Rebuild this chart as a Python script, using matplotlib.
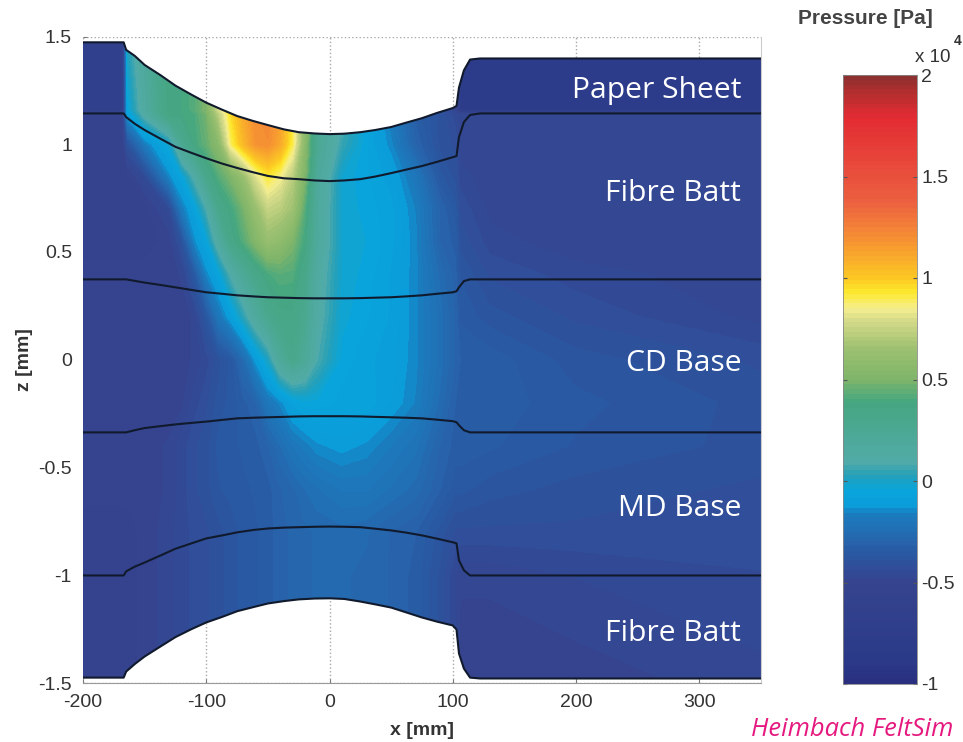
import numpy as np
import matplotlib
matplotlib.use("Agg")
import matplotlib.pyplot as plt
from matplotlib.cm import ScalarMappable
from matplotlib.colors import LinearSegmentedColormap, Normalize
from matplotlib.patches import PathPatch
from matplotlib.path import Path

plt.rcParams['font.family'] = ['Liberation Sans', 'DejaVu Sans']

# layer boundaries
bound_x = [-200, -167, -165, -158, -150, -137, -125, -112, -100, -87, -75, -62, -50, -37, -25, -12, 0, 12, 25, 37,
           50, 62, 75, 87, 100, 103, 105, 109, 114, 122, 350]
paper_top = [1.473, 1.473, 1.438, 1.41, 1.368, 1.32, 1.272, 1.23, 1.193, 1.16, 1.131, 1.108, 1.089, 1.069, 1.056, 1.05,
             1.047, 1.049, 1.056, 1.066, 1.08, 1.1, 1.121, 1.145, 1.168, 1.178, 1.263, 1.343, 1.393, 1.398, 1.398]
paper_batt = [1.143, 1.143, 1.126, 1.095, 1.066, 1.025, .988, .96, .935, .91, .89, .87, .853, .842, .838, .832,
              .829, .832, .838, .85, .866, .882, .899, .918, .94, .945, 1.033, 1.103, 1.136, 1.143, 1.143]
batt_cd = [.373, .373, .373, .366, .358, .347, .336, .324, .313, .306, .299, .294, .29, .288, .286, .285,
           .285, .285, .286, .288, .29, .294, .299, .306, .313, .318, .336, .365, .373, .373, .373]
cd_md = [-.337, -.337, -.337, -.327, -.317, -.308, -.3, -.293, -.287, -.279, -.272, -.269, -.267, -.265, -.263, -.262,
         -.262, -.262, -.263, -.265, -.267, -.269, -.272, -.278, -.285, -.29, -.304, -.327, -.337, -.337, -.337]
md_batt = [-1.001, -1.001, -.982, -.96, -.941, -.908, -.877, -.852, -.829, -.815, -.801, -.79, -.783, -.779, -.777, -.775,
           -.774, -.775, -.777, -.784, -.792, -.802, -.815, -.83, -.847, -.852, -.931, -.977, -1.001, -1.001, -1.001]
batt_bottom = [-1.475, -1.475, -1.447, -1.412, -1.377, -1.33, -1.287, -1.25, -1.219, -1.193, -1.167, -1.148, -1.131, -1.12, -1.112, -1.108,
               -1.107, -1.11, -1.122, -1.135, -1.15, -1.172, -1.196, -1.215, -1.233, -1.252, -1.363, -1.433, -1.475, -1.479, -1.479]

# pressure field, x 10^4 Pa, estimated from the colours
grid_x = [-200, -168, -164, -150, -130, -120, -110, -100, -90, -80, -70, -60, -50, -40, -30, -20, -10, 10, 30, 50, 70, 90, 102, 106, 130, 200, 350]
grid_z = [1.5, 1.16, 1.14, 1.0, 0.85, 0.7, 0.55, 0.4, 0.2, 0, -0.2, -0.4, -0.6, -0.8, -1.0, -1.5]
pressure = [
    [-.65, -.65, .02, .2, .38, .38, .42, .5, .82, 1.0, 1.1, 1.2, 1.22, 1.15, .95, .6, .25, .12, -.05, -.2, -.33, -.4, -.5, -.8, -.8, -.8, -.8],
    [-.65, -.65, -.06, .15, .38, .38, .42, .5, .78, 1.0, 1.1, 1.2, 1.22, 1.15, .95, .6, .25, .12, -.05, -.2, -.33, -.4, -.5, -.8, -.8, -.8, -.8],
    [-.55, -.55, -.1, .12, .38, .38, .4, .48, .72, .95, 1.1, 1.2, 1.22, 1.15, .92, .58, .25, .1, -.05, -.18, -.33, -.4, -.45, -.47, -.48, -.48, -.48],
    [-.52, -.52, -.4, -.18, -.02, .25, .38, .45, .55, .88, 1.05, 1.18, 1.2, 1.1, .9, .55, .25, .05, -.06, -.15, -.3, -.4, -.42, -.47, -.48, -.48, -.48],
    [-.52, -.52, -.52, -.45, -.15, -.06, .1, .3, .42, .5, .62, .8, .92, .85, .72, .5, .2, -.02, -.06, -.1, -.2, -.36, -.4, -.45, -.48, -.48, -.48],
    [-.52, -.52, -.52, -.52, -.45, -.18, -.08, .08, .3, .38, .48, .62, .75, .72, .65, .42, .18, -.02, -.05, -.08, -.16, -.3, -.36, -.42, -.47, -.48, -.48],
    [-.52, -.52, -.52, -.52, -.5, -.4, -.15, -.06, .15, .33, .42, .52, .62, .58, .5, .38, .18, -.02, -.04, -.08, -.15, -.3, -.33, -.4, -.45, -.48, -.48],
    [-.5, -.5, -.5, -.5, -.5, -.48, -.36, -.15, -.06, .1, .22, .32, .4, .43, .42, .32, .14, -.02, -.05, -.09, -.15, -.26, -.31, -.37, -.42, -.45, -.48],
    [-.5, -.5, -.5, -.5, -.5, -.5, -.48, -.37, -.2, -.1, .03, .17, .28, .34, .35, .27, .12, -.03, -.06, -.09, -.15, -.24, -.3, -.35, -.38, -.42, -.47],
    [-.5, -.5, -.5, -.5, -.5, -.5, -.48, -.45, -.4, -.36, -.26, -.12, 0, .2, .3, .22, .08, -.05, -.08, -.1, -.15, -.24, -.3, -.32, -.33, -.38, -.42],
    [-.5, -.5, -.5, -.5, -.5, -.49, -.45, -.42, -.38, -.36, -.33, -.3, -.2, -.15, -.08, -.05, -.05, -.07, -.07, -.11, -.16, -.26, -.32, -.33, -.33, -.36, -.4],
    [-.5, -.5, -.5, -.5, -.48, -.45, -.42, -.4, -.36, -.35, -.34, -.33, -.3, -.25, -.2, -.17, -.14, -.12, -.14, -.18, -.22, -.3, -.33, -.33, -.34, -.37, -.4],
    [-.5, -.5, -.5, -.5, -.48, -.45, -.42, -.4, -.37, -.36, -.35, -.34, -.33, -.3, -.28, -.25, -.23, -.2, -.2, -.23, -.26, -.32, -.36, -.36, -.38, -.4, -.42],
    [-.52, -.52, -.52, -.5, -.47, -.45, -.43, -.42, -.4, -.38, -.36, -.35, -.33, -.31, -.29, -.28, -.27, -.26, -.27, -.3, -.32, -.38, -.42, -.42, -.42, -.42, -.42],
    [-.52, -.52, -.52, -.5, -.47, -.45, -.43, -.42, -.4, -.38, -.36, -.35, -.33, -.31, -.29, -.28, -.27, -.27, -.28, -.3, -.33, -.4, -.46, -.48, -.48, -.46, -.44],
    [-.52, -.52, -.52, -.5, -.47, -.45, -.43, -.42, -.4, -.38, -.36, -.35, -.33, -.31, -.29, -.28, -.27, -.27, -.28, -.3, -.33, -.4, -.46, -.5, -.5, -.5, -.47],
]

layer_names = ["Paper Sheet", "Fibre Batt", "CD Base", "MD Base", "Fibre Batt"]
layer_label_z = [1.25, 0.77, -0.018, -0.69, -1.27]

x_ticks = [-200, -100, 0, 100, 200, 300]
x_tick_labels = ["-200", "-100", "0", "100", "200", "300"]
z_ticks = [-1.5, -1, -0.5, 0, 0.5, 1, 1.5]
z_tick_labels = ["-1.5", "-1", "-0.5", "0", "0.5", "1", "1.5"]
cbar_ticks = [-1, -0.5, 0, 0.5, 1, 1.5, 2]
cbar_tick_labels = ["-1", "-0.5", "0", "0.5", "1", "1.5", "2"]

cmap_vals = [-1, -0.9, -0.5, -0.385, -0.155, -0.14, -0.05, 0.025, 0.09, 0.39, 0.5, 0.65, 0.8, 0.85, 0.93, 1, 1.22, 1.38, 1.8, 1.92, 2]
cmap_cols = ["#2a2f80", "#2b3a88", "#36448f", "#2c55a0", "#1a7fc0", "#0a9bd8", "#09a5dc", "#259fb8",
             "#52aba8", "#45a680", "#7fb56a", "#9cc070", "#d8dc8a", "#f5ee90", "#fde92f", "#fcc922",
             "#f58a35", "#ec6040", "#e32b33", "#b52e2e", "#8f3030"]
norm = Normalize(-1, 2)
cmap = LinearSegmentedColormap.from_list("felt", [((v + 1) / 3, c) for v, c in zip(cmap_vals, cmap_cols)], N=128)

fig = plt.figure(figsize=(9.63, 7.42), dpi=100)
W, H = 963, 742
ax = fig.add_axes([83 / W, 1 - 683 / H, (761 - 83) / W, (683 - 36.5) / H])

field = ax.contourf(grid_x, grid_z, pressure, levels=np.linspace(-1, 2, 129), cmap=cmap, norm=norm, zorder=2)
outline = np.column_stack([bound_x + bound_x[::-1], paper_top + batt_bottom[::-1]])
clip = PathPatch(Path(outline), transform=ax.transData, fc="none", ec="none")
ax.add_patch(clip)
field.set_clip_path(clip)

for line in [paper_top, paper_batt, batt_cd, cd_md, md_batt, batt_bottom]:
    ax.plot(bound_x, line, color="#101a2c", lw=1.5, zorder=3)

for name, z in zip(layer_names, layer_label_z):
    ax.text(334, z, name, color="white", fontsize=21.6, family="Open Sans", ha="right", va="center", zorder=4)

ax.set_xlim(-200, 350)
ax.set_ylim(-1.5, 1.5)
ax.set_xticks(x_ticks)
ax.set_xticklabels(x_tick_labels)
ax.set_yticks(z_ticks)
ax.set_yticklabels(z_tick_labels)
ax.grid(True, color="#a8a8a8", ls=":", lw=1, zorder=1)
ax.set_axisbelow(True)
ax.tick_params(direction="in", length=3, labelsize=14, labelcolor="#333333", color="#777777", pad=8)
for side in ["top", "left"]:
    ax.spines[side].set_visible(False)
ax.spines["bottom"].set_color("#999999")
ax.spines["right"].set_color("#cccccc")
ax.set_xlabel("x [mm]", fontsize=14, fontweight="bold", color="#333333", labelpad=8)
ax.set_ylabel("z [mm]", fontsize=14, fontweight="bold", color="#333333", labelpad=4)

cax = fig.add_axes([843 / W, 1 - 684 / H, 74 / W, (684 - 75) / H])
cbar = fig.colorbar(ScalarMappable(norm=norm, cmap=cmap), cax=cax, ticks=cbar_ticks)
cbar.ax.set_yticklabels(cbar_tick_labels)
cbar.ax.tick_params(direction="in", length=3, labelsize=14, labelcolor="#333333", color="#555555", left=True, pad=3)
cbar.outline.set_edgecolor("#888888")
cbar.outline.set_linewidth(0.6)

fig.text(865 / W, 1 - 18 / H, "Pressure [Pa]", fontsize=15, fontweight="bold", color="#444444", ha="center", va="center")
fig.text(915 / W, 1 - 58 / H, "x 10", fontsize=13.5, color="#333333", ha="left", va="center")
fig.text(958 / W, 1 - 41 / H, "4", fontsize=10, fontweight="bold", color="#333333", ha="center", va="center")
fig.text(953 / W, 1 - 729 / H, "Heimbach FeltSim", fontsize=18.4, family="Open Sans", style="italic",
         color="#e5197f", ha="right", va="center")

fig.savefig("out.png", dpi=100)
